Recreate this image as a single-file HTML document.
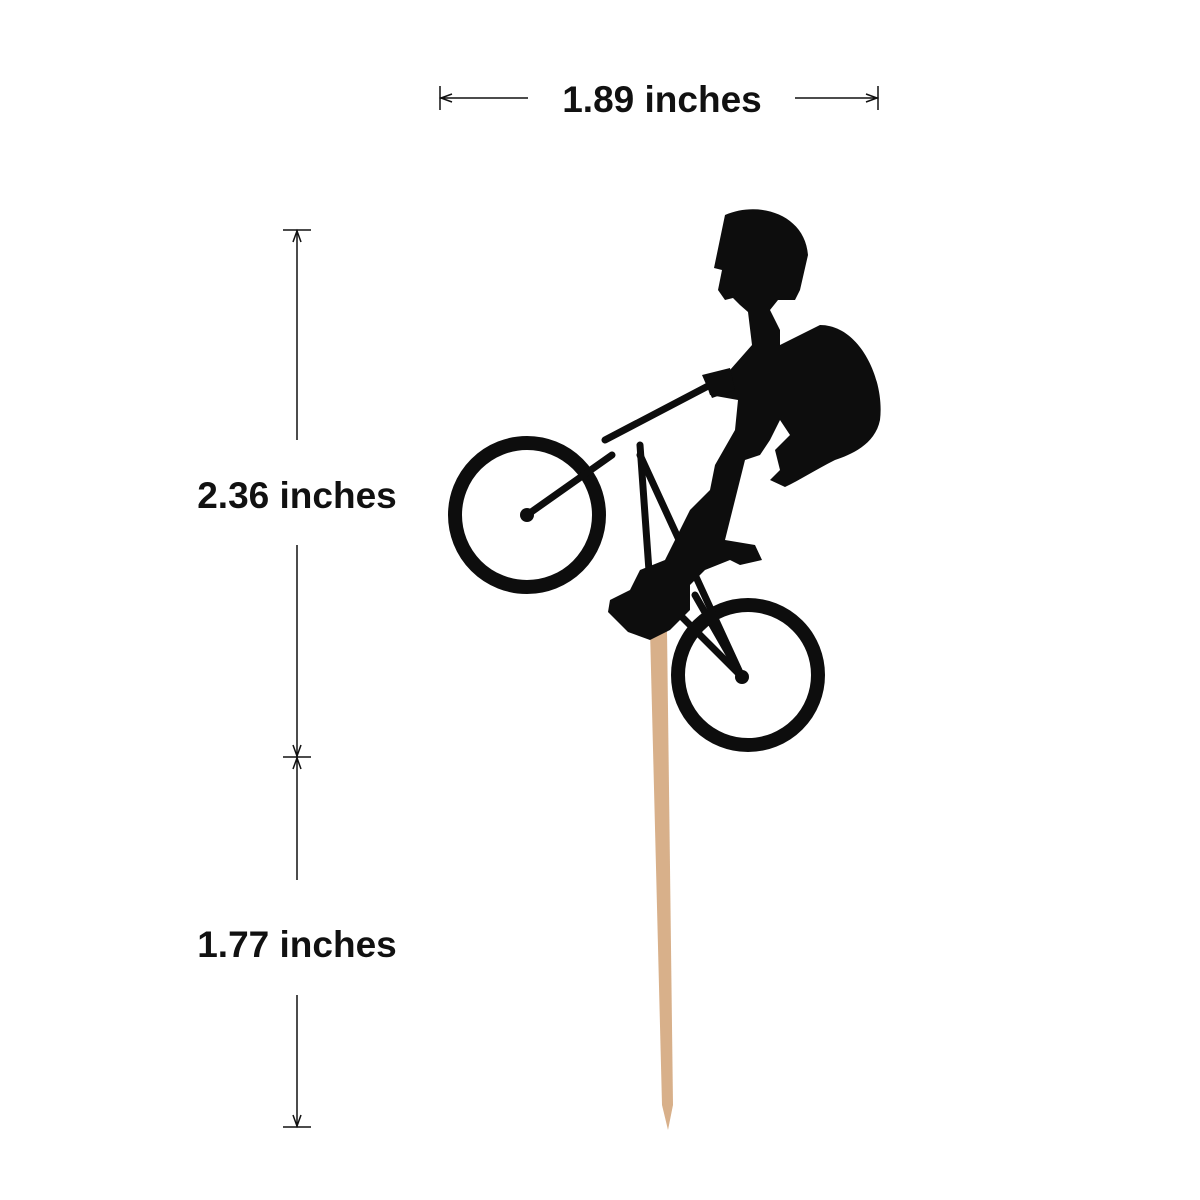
<!DOCTYPE html>
<html><head><meta charset="utf-8"><style>
html,body{margin:0;padding:0;background:#fff;}
svg{display:block}
text{font-family:"Liberation Sans",sans-serif;font-size:37px;font-weight:bold;fill:#111;}
</style></head><body>
<svg width="1200" height="1200" viewBox="0 0 1200 1200">
<g stroke="#111" stroke-width="1.5" fill="none">
  <line x1="440" y1="86" x2="440" y2="110"/>
  <line x1="440" y1="98" x2="528" y2="98"/>
  <polyline points="452,94 441,98 452,102"/>
  <line x1="795" y1="98" x2="878" y2="98"/>
  <line x1="878" y1="86" x2="878" y2="110"/>
  <polyline points="866,94 877,98 866,102"/>
</g>
<text x="662" y="112" text-anchor="middle">1.89 inches</text>

<g stroke="#111" stroke-width="1.5" fill="none">
  <line x1="283" y1="230" x2="311" y2="230"/>
  <line x1="297" y1="230" x2="297" y2="440"/>
  <polyline points="293,242 297,231 301,242"/>
  <line x1="297" y1="545" x2="297" y2="757"/>
  <polyline points="293,745 297,756 301,745"/>
  <line x1="283" y1="757" x2="311" y2="757"/>
  <polyline points="293,769 297,758 301,769"/>
  <line x1="297" y1="757" x2="297" y2="880"/>
  <line x1="297" y1="995" x2="297" y2="1127"/>
  <polyline points="293,1115 297,1126 301,1115"/>
  <line x1="283" y1="1127" x2="311" y2="1127"/>
</g>
<text x="297" y="508" text-anchor="middle">2.36 inches</text>
<text x="297" y="957" text-anchor="middle">1.77 inches</text>

<path d="M650,630 L667,630 L673,1105 L668,1130 L662,1105 Z" fill="#d8b08a"/>

<g fill="#0d0d0d" stroke="#0d0d0d">
  <circle cx="527" cy="515" r="72" fill="none" stroke-width="14"/>
  <circle cx="748" cy="675" r="70" fill="none" stroke-width="14"/>
  <circle cx="527" cy="515" r="7" stroke="none"/>
  <circle cx="742" cy="677" r="7" stroke="none"/>
  <g stroke-width="7" fill="none" stroke-linecap="round">
    <line x1="527" y1="515" x2="612" y2="455"/>
    <line x1="605" y1="440" x2="710" y2="385"/>
    <line x1="640" y1="445" x2="650" y2="585"/>
    <line x1="640" y1="455" x2="742" y2="677"/>
    <line x1="650" y1="585" x2="742" y2="677"/>
    <line x1="655" y1="600" x2="720" y2="540"/>
    <line x1="695" y1="595" x2="742" y2="677"/>
  </g>
  <path stroke="none" d="M725,215 C760,200 805,215 808,255 L800,290 L795,300 L778,300 L770,310 L780,330 L780,345 L820,325 C860,325 885,380 880,420 C875,445 850,455 835,460 C815,470 800,480 785,487 L770,480 L780,470 L775,450 L790,435 L780,420 L770,440 L760,455 L745,460 L735,500 L725,540 L755,545 L762,560 L740,565 L730,560 L705,570 L690,585 L690,610 L670,630 L650,640 L628,632 L608,612 L610,600 L630,590 L640,570 L665,560 L690,510 L710,490 L715,465 L735,430 L738,400 L710,395 L705,380 L730,370 L752,345 L748,312 L740,305 L733,298 L725,300 L718,290 L722,270 L714,268 Z"/>
  <path stroke="none" d="M702,375 L730,368 L735,390 L712,398 Z"/>
</g>
</svg>
</body></html>
